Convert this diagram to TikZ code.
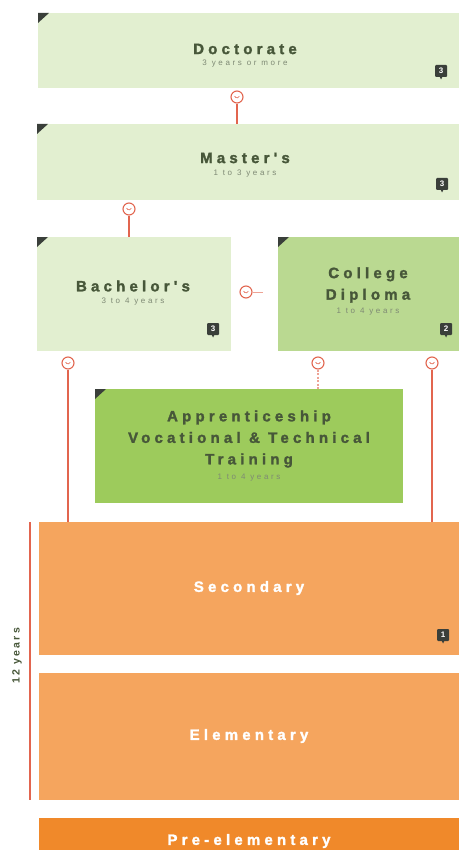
\documentclass[tikz,border=0pt]{standalone}
\usepackage{fontspec}
\setmainfont{Liberation Sans}
\newfontfamily\titlefont[LetterSpace=28,FakeBold=1.8]{Liberation Sans}
\newfontfamily\subfont[LetterSpace=33]{Liberation Sans}
\newfontfamily\yrsfont[LetterSpace=22]{Liberation Sans}
\definecolor{lgreen}{HTML}{E2EFD0}
\definecolor{mgreen}{HTML}{BAD991}
\definecolor{dgreen}{HTML}{9DCB5C}
\definecolor{orng}{HTML}{F5A55E}
\definecolor{dorng}{HTML}{F0892A}
\definecolor{rline}{HTML}{E2654F}
\definecolor{ttext}{HTML}{475739}
\definecolor{badgec}{HTML}{3A3F3A}
\tikzset{
  box/.style={inner sep=0pt, anchor=north west, align=center, draw=none},
  ttl/.style={font=\titlefont\bfseries\fontsize{15}{21.5}\selectfont, text=ttext},
  sub/.style={font=\subfont\fontsize{8}{8}\selectfont, text=ttext!70},
  conn/.style={circle, draw=rline, fill=white, line width=1.1pt, minimum size=12pt, inner sep=0pt},
  stem/.style={draw=rline, line width=2pt},
}
\newcommand{\corner}[2]{\fill[badgec] (#1,#2) -- ++(11,0) -- ++(-11,10) -- cycle;}
\newcommand{\badge}[3]{%
  \fill[badgec, rounded corners=1pt] (#1-6,#2-6) rectangle (#1+6,#2+6);
  \fill[badgec] (#1-1.5,#2+5.5) -- (#1+1.5,#2+5.5) -- (#1,#2+8.5) -- cycle;
  \node[text=white, font=\bfseries\fontsize{8}{8}\selectfont, inner sep=0pt] at (#1,#2) {#3};}
\newcommand{\inmark}[1]{\draw[rline, line width=0.7pt] ([xshift=-2.4pt,yshift=0.8pt]#1.center) arc[start angle=200, end angle=340, radius=2.5pt];}
\begin{document}
\begin{tikzpicture}[x=1pt,y=-1pt]
\useasboundingbox (0,0) rectangle (459,850);
\fill[white] (0,0) rectangle (459,850);

% Boxes
\node[box, fill=lgreen, minimum width=421pt, minimum height=75pt] (doc) at (38,13) {};
\node[ttl] at (245,49) {Doctorate};
\node[sub] at (245,64) {3 years or more};
\corner{38}{13}
\badge{441}{71}{3}

\node[box, fill=lgreen, minimum width=422pt, minimum height=76pt] (mas) at (37,124) {};
\node[ttl] at (245,158) {Master's};
\node[sub] at (245,174) {1 to 3 years};
\corner{37}{124}
\badge{442}{184}{3}

\node[box, fill=lgreen, minimum width=194pt, minimum height=114pt] (bac) at (37,237) {};
\node[ttl] at (133,286) {Bachelor's};
\node[sub] at (133,302) {3 to 4 years};
\corner{37}{237}
\badge{213}{329}{3}

\node[box, fill=mgreen, minimum width=181pt, minimum height=114pt] (col) at (278,237) {};
\node[ttl, align=center] at (368,285) {College\\Diploma};
\node[sub] at (368,312) {1 to 4 years};
\corner{278}{237}
\badge{446}{329}{2}

\node[box, fill=dgreen, minimum width=308pt, minimum height=114pt] (app) at (95,389) {};
\node[ttl, align=center] at (249,439) {Apprenticeship\\Vocational \& Technical\\Training};
\node[sub] at (249,478) {1 to 4 years};
\corner{95}{389}

\node[box, fill=orng, minimum width=420pt, minimum height=133pt] (sec) at (39,522) {};
\node[ttl, text=white] at (249,588) {Secondary};
\badge{443}{635}{1}

\node[box, fill=orng, minimum width=420pt, minimum height=127pt] (ele) at (39,673) {};
\node[ttl, text=white] at (249,736) {Elementary};

\node[box, fill=dorng, minimum width=420pt, minimum height=40pt] (pre) at (39,818) {};
\node[ttl, text=white] at (249,841) {Pre-elementary};

% side bar
\coordinate (st) at (30,522);
\coordinate (sb) at (30,800);
\draw[rline, line width=1.8pt] (st) -- (sb);
\node[rotate=90, font=\yrsfont\bfseries\fontsize{10.5}{11}\selectfont, text=ttext] (yrs) at (17,656) {12 years};

% connectors
\node[conn] (c1) at (237,97) {};
\draw[stem] (c1.south) -- (c1.south |- mas.north);
\inmark{c1}

\node[conn] (c2) at (129,209) {};
\draw[stem] (c2.south) -- (c2.south |- bac.north);
\inmark{c2}

\node[conn] (c3) at (246,292) {};
\coordinate (c3e) at (263,292);
\draw[rline!60, line width=0.8pt] (c3.east) -- (c3e);
\inmark{c3}

\node[conn] (c4) at (68,363) {};
\draw[stem] (c4.south) -- (c4.south |- sec.north);
\inmark{c4}

\node[conn] (c5) at (318,363) {};
\draw[rline!60, line width=1.2pt, dashed, dash pattern=on 2pt off 1.5pt] (c5.south) -- (c5.south |- app.north);
\inmark{c5}

\node[conn] (c6) at (432,363) {};
\draw[stem] (c6.south) -- (c6.south |- sec.north);
\inmark{c6}
\end{tikzpicture}
\end{document}
